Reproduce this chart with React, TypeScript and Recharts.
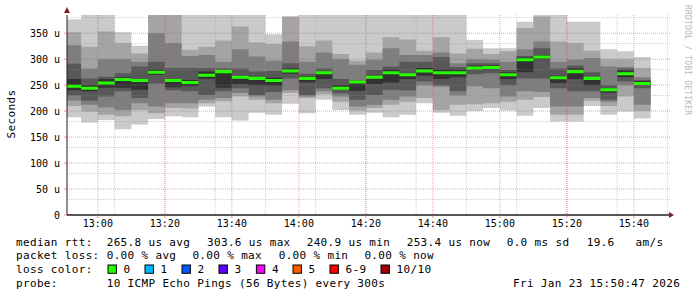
import { ComposedChart, Area, XAxis, YAxis, CartesianGrid } from 'recharts'

// start of each 5 minute step
const slots = [
  '12:50', '12:55', '13:00', '13:05', '13:10', '13:15', '13:20', '13:25', '13:30', '13:35',
  '13:40', '13:45', '13:50', '13:55', '14:00', '14:05', '14:10', '14:15', '14:20', '14:25',
  '14:30', '14:35', '14:40', '14:45', '14:50', '14:55', '15:00', '15:05', '15:10', '15:15',
  '15:20', '15:25', '15:30', '15:35', '15:40',
]

// the 10 pings of every step, sorted, in microseconds
const ping1 = [188, 178, 183, 165, 174, 185, 190, 188, 209, 188, 182, 197, 193, 214, 196, 222, 202, 193, 197, 188, 193, 215, 197, 191, 200, 206, 201, 191, 206, 180, 180, 210, 193, 199, 186]
const ping2 = [210, 199, 193, 190, 202, 196, 206, 205, 215, 219, 228, 222, 215, 235, 225, 232, 218, 201, 206, 212, 218, 225, 202, 212, 213, 215, 218, 222, 227, 193, 193, 220, 210, 228, 200]
const ping3 = [220, 212, 207, 202, 215, 209, 215, 215, 222, 225, 235, 228, 222, 240, 228, 238, 228, 209, 212, 222, 228, 250, 247, 230, 248, 244, 228, 238, 237, 209, 209, 225, 218, 250, 212]
const ping4 = [230, 220, 228, 238, 225, 253, 240, 238, 231, 238, 244, 231, 237, 263, 231, 244, 234, 222, 231, 241, 240, 257, 250, 238, 271, 273, 250, 263, 263, 244, 238, 238, 222, 257, 244]
const ping5 = [240, 238, 245, 245, 241, 270, 246, 248, 262, 245, 252, 250, 249, 272, 255, 262, 241, 239, 252, 255, 262, 268, 262, 265, 280, 280, 262, 275, 300, 254, 262, 250, 236, 265, 252]
const ping6 = [262, 250, 262, 265, 262, 280, 262, 260, 276, 279, 268, 266, 264, 282, 267, 276, 250, 258, 268, 280, 273, 283, 280, 280, 288, 288, 275, 303, 308, 268, 282, 265, 244, 278, 258]
const ping7 = [291, 263, 266, 273, 286, 295, 283, 283, 283, 282, 282, 276, 277, 292, 272, 282, 262, 260, 279, 286, 295, 295, 304, 285, 292, 292, 279, 306, 321, 282, 288, 275, 250, 282, 260]
const ping8 = [327, 282, 300, 300, 295, 350, 331, 306, 308, 295, 319, 305, 297, 334, 295, 313, 300, 289, 299, 321, 308, 308, 313, 292, 300, 299, 295, 319, 334, 295, 299, 302, 286, 285, 265]
const ping9 = [352, 324, 353, 331, 311, 390, 388, 318, 324, 336, 363, 332, 329, 381, 325, 336, 310, 297, 313, 342, 338, 316, 342, 311, 320, 310, 315, 360, 382, 334, 331, 316, 300, 300, 283]
const ping10 = [377, 395, 395, 352, 326, 400, 400, 395, 395, 395, 395, 395, 348, 383, 395, 395, 395, 395, 395, 395, 395, 395, 395, 395, 337, 321, 321, 372, 385, 395, 372, 372, 319, 315, 304]
const median = [248, 244, 254, 261, 259, 275, 259, 255, 269, 276, 265, 263, 259, 277, 263, 274, 244, 256, 265, 274, 270, 277, 274, 274, 283, 284, 270, 299, 304, 264, 276, 263, 241, 272, 253]

const yTicks = [0, 50, 100, 150, 200, 250, 300, 350]
const xTicks = ['13:00', '13:20', '13:40', '14:00', '14:20', '14:40', '15:00', '15:20', '15:40']

const lossLegend = [
  { label: '0', color: '#26ff00' },
  { label: '1', color: '#00b8ff' },
  { label: '2', color: '#0059ff' },
  { label: '3', color: '#5e00ff' },
  { label: '4', color: '#ff00ff' },
  { label: '5', color: '#ff5e00' },
  { label: '6-9', color: '#ff0000' },
  { label: '10/10', color: '#a10000' },
]

const SMOKE = ['#cacaca', '#a4a4a4', '#7e7e7e', '#585858', '#323232']
const MED_HALF = 2.9
const toMin = (t: string) => {
  const [h, m] = t.split(':').map(Number)
  return h * 60 + m
}
const fmt = (v: number) => {
  const h = Math.floor(v / 60)
  const m = Math.round(v % 60)
  return `${h}:${m < 10 ? '0' : ''}${m}`
}
const END = toMin('15:50') + 47 / 60
const START = END - 180

const pings = [ping1, ping2, ping3, ping4, ping5, ping6, ping7, ping8, ping9, ping10]
const rows = slots.map((s, i) => ({ t: toMin(s), p: pings.map((a) => a[i]), med: median[i] }))
// closing point so the last step keeps its width
rows.push({ ...rows[rows.length - 1], t: rows[rows.length - 1].t + 5 })

const minorX: number[] = []
for (let t = toMin('12:55'); t < END; t += 5) minorX.push(t)
const majorX = xTicks.map(toMin)
const minorY: number[] = []
for (let v = 10; v < 385; v += 10) minorY.push(v)
const majorY = yTicks.filter((v) => v > 0)

const MONO = '"DejaVu Sans Mono", monospace'

const line1 = [
  [16, 'median rtt:'], [106.7, '265.8 us avg'], [207, '303.6 us max'], [306.7, '240.9 us min'],
  [406.7, '253.4 us now'], [506.7, '0.0 ms sd'], [586.7, '19.6'], [635.6, 'am/s'],
] as const
const line2 = [
  [16, 'packet loss:'], [106.7, '0.00 % avg'], [192.4, '0.00 % max'], [278.7, '0.00 % min'], [364.4, '0.00 % now'],
] as const
const line4 = [
  [16, 'probe:'], [106.7, '10 ICMP Echo Pings (56 Bytes) every 300s'], [513, 'Fri Jan 23 15:50:47 2026'],
] as const
const boxX = [108, 145, 182, 219, 256.4, 293, 330, 381]

const Txt = ({ x, y, children }: { x: number; y: number; children: string }) => (
  <text x={x} y={y} fontFamily={MONO} fontSize={11} letterSpacing={0.34} fill='#000'>
    {children}
  </text>
)

export default function App() {
  return (
    <div style={{ position: 'relative', width: 697, height: 297, background: '#fff' }}>
      <style>{'body{margin:0}'}</style>
      <ComposedChart
        width={697}
        height={297}
        data={rows}
        margin={{ top: 15, right: 27, bottom: 62, left: 0 }}
      >
        <XAxis
          dataKey='t'
          type='number'
          domain={[START, END]}
          allowDataOverflow
          ticks={majorX}
          tickFormatter={fmt}
          height={20}
          tickSize={3}
          tickMargin={2}
          tick={{ fontFamily: MONO, fontSize: 10, fill: '#000' }}
          axisLine={{ stroke: '#1f1f1f', strokeWidth: 1.5 }}
          tickLine={{ stroke: 'rgba(222,79,79,0.6)' }}
        />
        <YAxis
          type='number'
          domain={[0, 385]}
          allowDataOverflow
          ticks={yTicks}
          tickFormatter={(v: number) => (v === 0 ? '0' : `${v} u`)}
          width={67}
          tickSize={3}
          tickMargin={4}
          tick={{ fontFamily: MONO, fontSize: 10, fill: '#000' }}
          axisLine={{ stroke: '#1f1f1f' }}
          tickLine={{ stroke: 'rgba(222,79,79,0.6)' }}
        />
        {SMOKE.map((c, k) => (
          <Area
            key={c}
            type='stepAfter'
            dataKey={(d: any) => [d.p[k], d.p[9 - k]]}
            fill={c}
            fillOpacity={1}
            stroke='none'
            dot={false}
            activeDot={false}
            isAnimationActive={false}
          />
        ))}
        <Area
          type='stepAfter'
          dataKey={(d: any) => [d.med - MED_HALF, d.med + MED_HALF]}
          fill='#26ff00'
          fillOpacity={1}
          stroke='none'
          dot={false}
          activeDot={false}
          isAnimationActive={false}
        />
        <CartesianGrid
          {...({ zIndex: 450 } as any)}
          horizontalValues={minorY}
          verticalValues={minorX}
          stroke='rgb(143,143,143)'
          strokeOpacity={0.4}
          strokeDasharray='1 1'
        />
        <CartesianGrid
          {...({ zIndex: 460 } as any)}
          horizontalValues={majorY}
          verticalValues={majorX}
          stroke='rgb(222,79,79)'
          strokeOpacity={0.55}
          strokeDasharray='1 1'
        />
      </ComposedChart>
      <svg
        width={697}
        height={297}
        style={{ position: 'absolute', left: 0, top: 0, pointerEvents: 'none' }}
      >
        <polygon points='64,13 70,13 67,7' fill='rgb(128,31,31)' />
        <polygon points='669,212 669,218 674,215' fill='rgb(128,31,31)' />
        <text
          x={15}
          y={114}
          transform='rotate(-90 15 114)'
          textAnchor='middle'
          fontFamily={MONO}
          fontSize={11}
          letterSpacing={0.34}
          fill='#000'
        >
          Seconds
        </text>
        <text
          x={685}
          y={5}
          transform='rotate(90 685 5)'
          fontFamily={MONO}
          fontSize={8}
          letterSpacing={0.2}
          fill='#b8b8b8'
        >
          RRDTOOL / TOBI OETIKER
        </text>
        {line1.map(([x, s]) => (
          <Txt key={s} x={x} y={245.5}>{s}</Txt>
        ))}
        {line2.map(([x, s]) => (
          <Txt key={s} x={x} y={259.3}>{s}</Txt>
        ))}
        <Txt x={16} y={273.2}>loss color:</Txt>
        {lossLegend.map((l, i) => (
          <g key={l.label}>
            <rect x={boxX[i]} y={265} width={8.4} height={8.3} fill={l.color} stroke='#000' strokeWidth={1} />
            <Txt x={boxX[i] + 15.6} y={273.2}>{l.label}</Txt>
          </g>
        ))}
        {line4.map(([x, s]) => (
          <Txt key={s} x={x} y={287}>{s}</Txt>
        ))}
      </svg>
    </div>
  )
}
